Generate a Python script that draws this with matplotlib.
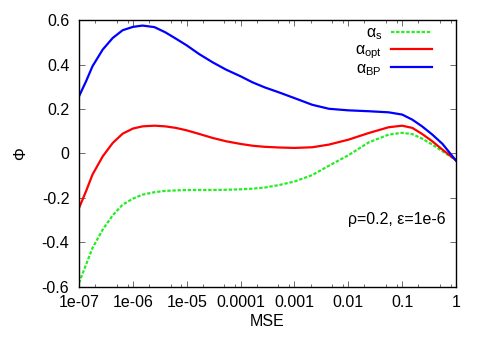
import numpy as np
import matplotlib
matplotlib.use("Agg")
import matplotlib.pyplot as plt
from matplotlib.ticker import FixedLocator

plt.rcParams['font.family'] = ['Liberation Sans', 'DejaVu Sans']
plt.rcParams['mathtext.fontset'] = 'custom'
plt.rcParams['mathtext.rm'] = 'Liberation Sans'
plt.rcParams['mathtext.it'] = 'Liberation Sans'
plt.rcParams['mathtext.default'] = 'regular'

log_mse = [-7.0, -6.87, -6.75, -6.56, -6.375, -6.19, -6.0, -5.82, -5.6, -5.4,
           -5.2, -5.0, -4.77, -4.52, -4.27, -4.0, -3.78, -3.55, -3.29, -3.0,
           -2.67, -2.36, -2.0, -1.62, -1.25, -1.0, -0.81, -0.63, -0.44, -0.25, 0.0]

phi_bp = [0.257, 0.324, 0.392, 0.467, 0.519, 0.554, 0.569, 0.575, 0.568, 0.545,
          0.516, 0.486, 0.447, 0.410, 0.377, 0.347, 0.320, 0.297, 0.275, 0.249,
          0.219, 0.201, 0.194, 0.190, 0.185, 0.175, 0.152, 0.122, 0.085, 0.043, -0.032]

phi_opt = [-0.245, -0.170, -0.095, -0.013, 0.047, 0.089, 0.112, 0.122, 0.125, 0.122,
           0.115, 0.104, 0.088, 0.070, 0.055, 0.043, 0.035, 0.030, 0.027, 0.025,
           0.028, 0.040, 0.062, 0.092, 0.118, 0.125, 0.115, 0.088, 0.055, 0.017, -0.030]

phi_s = [-0.582, -0.500, -0.425, -0.342, -0.278, -0.230, -0.203, -0.185, -0.174, -0.168,
         -0.166, -0.164, -0.164, -0.164, -0.163, -0.161, -0.158, -0.153, -0.142, -0.126,
         -0.097, -0.055, -0.008, 0.050, 0.085, 0.093, 0.087, 0.067, 0.040, 0.010, -0.030]

x_ticks = [1e-7, 1e-6, 1e-5, 1e-4, 1e-3, 1e-2, 1e-1, 1]
x_ticklabels = ["1e-07", "1e-06", "1e-05", "0.0001", "0.001", "0.01", "0.1", "1"]
y_ticks = [-0.6, -0.4, -0.2, 0.0, 0.2, 0.4, 0.6]
y_ticklabels = ["-0.6", "-0.4", "-0.2", "0", "0.2", "0.4", "0.6"]

mse = 10.0 ** np.array(log_mse)

FS = 11.5
fig = plt.figure(figsize=(4.85, 3.39), dpi=100)
ax = fig.add_axes([0.1629, 0.1534, 0.7773, 0.7876])

kw = dict(lw=1.6, solid_joinstyle='round', dash_joinstyle='round')
ax.plot(mse, phi_s, color='#22ee22', linestyle=(0, (1.5, 0.8)), label=r'$\alpha_{s}$', **kw)
ax.plot(mse, phi_opt, color='#ff0000', label=r'$\alpha_{opt}$', **kw)
ax.plot(mse, phi_bp, color='#0000ff', label=r'$\alpha_{BP}$', **kw)

ax.set_xscale('log')
ax.set_xlim(1e-7, 1)
ax.set_ylim(-0.6, 0.6)
ax.set_xticks(x_ticks)
ax.set_xticklabels(x_ticklabels)
minor = [d * m for d in x_ticks[:-1] for m in (2, 5, 8)]
ax.xaxis.set_minor_locator(FixedLocator(minor))
ax.xaxis.set_minor_formatter(plt.NullFormatter())
ax.set_yticks(y_ticks)
ax.set_yticklabels(y_ticklabels)

ax.tick_params(which='both', direction='in', top=True, right=True, labelsize=FS)
ax.tick_params(which='major', length=4, width=0.6, color='#555555')
ax.tick_params(which='minor', length=2, width=0.6, color='#555555')
ax.tick_params(axis='y', pad=7)
ax.tick_params(axis='x', pad=6)
for s in ax.spines.values():
    s.set_linewidth(1.0)

ax.set_xlabel('MSE', fontsize=FS, labelpad=3)
ax.set_ylabel('Φ', fontsize=FS, labelpad=10)

ax.text(0.973, 0.251, 'ρ=0.2, ε=1e-6', transform=ax.transAxes,
        ha='right', va='center', fontsize=FS)

leg = ax.legend(loc='upper right', bbox_to_anchor=(0.963, 1.015), frameon=False,
                markerfirst=False, fontsize=FS, handlelength=2.6,
                handletextpad=0.55, labelspacing=0.0, borderaxespad=0.2)

fig.savefig('out.png', dpi=100)
